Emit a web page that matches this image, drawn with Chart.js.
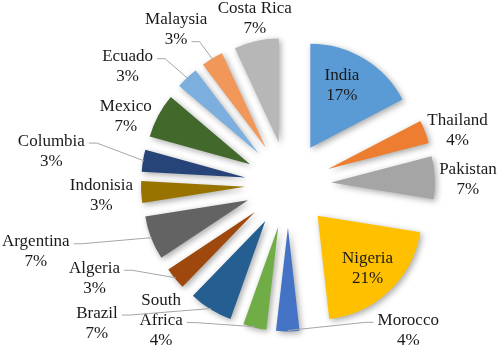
<!DOCTYPE html>
<html>
<head>
<meta charset="utf-8">
<script src="https://cdn.jsdelivr.net/npm/chart.js@4.4.1/dist/chart.umd.min.js"></script>
<style>
  body { margin: 0; background: #fff; }
  #wrap { width: 498px; height: 348px; }
</style>
</head>
<body>
<div id="wrap"><canvas id="chart"></canvas></div>
<script>
// slices, clockwise from 12 o'clock
const countries = ['India', 'Thailand', 'Pakistan', 'Nigeria', 'Morocco', ['South', 'Africa'], 'Brazil',
  'Algeria', 'Argentina', 'Indonisia', 'Columbia', 'Mexico', 'Ecuado', 'Malaysia', 'Costa Rica'];
// shares (labels show them rounded)
const shares = [17.3, 3.6, 6.6, 20.6, 3.6, 3.6, 6.8, 3.4, 6.8, 3.4, 3.4, 6.9, 3.45, 3.4, 6.9];
const colors = ['#5b9bd5', '#ed7d31', '#a5a5a5', '#ffc000', '#4472c4', '#70ad47', '#255e91',
  '#9e480e', '#636363', '#997300', '#264478', '#43682b', '#7cafdd', '#f1975a', '#b7b7b7'];

// label layout: distance from pie centre, turn (deg) off the slice middle,
// and which text row the leader line leaves from (-1 = no leader)
const labelDist = [113, 178, 180, 116, 189, 186, 236, 215, 261, 187, 239, 176, 199, 191, 169];
const labelTurn = [-2.7, 3.3, 1.2, 0.3, -39.6, 29.9, 22.2, 13.9, 6.4, -0.6, -1.3, -5.1, -10.3, -4.8, 1.1];
const leaderRow = [-1, -1, -1, -1, 0, 1, 0, 0, 0, -1, 0, -1, 0, 1, -1];

const EXPLODE = 43;
const LINE_H = 20;

// arc that is pushed out along its middle, without Chart.js growing small slices
class ExplodedArc extends Chart.ArcElement {
  draw(ctx) {
    const mid = (this.startAngle + this.endAngle) / 2;
    ctx.save();
    ctx.translate(Math.cos(mid) * EXPLODE, Math.sin(mid) * EXPLODE);
    ctx.shadowColor = 'rgba(0,0,0,0.35)';
    ctx.shadowBlur = 6;
    ctx.shadowOffsetX = 2;
    ctx.shadowOffsetY = 2;
    super.draw(ctx);
    ctx.restore();
  }
}
ExplodedArc.id = 'explodedArc';
Chart.register(ExplodedArc);
Chart.defaults.datasets.pie.dataElementType = 'explodedArc';

const sliceLabels = {
  id: 'sliceLabels',
  afterDatasetsDraw(chart) {
    const ctx = chart.ctx;
    const arcs = chart.getDatasetMeta(0).data;
    const total = shares.reduce((a, b) => a + b, 0);
    ctx.save();
    ctx.font = '17px "Liberation Serif"';
    ctx.fillStyle = '#1a1a1a';
    ctx.strokeStyle = '#a6a6a6';
    ctx.lineWidth = 1;
    ctx.textAlign = 'center';
    ctx.textBaseline = 'middle';
    arcs.forEach((arc, i) => {
      const {x, y, startAngle, endAngle, outerRadius} =
        arc.getProps(['x', 'y', 'startAngle', 'endAngle', 'outerRadius'], true);
      const mid = (startAngle + endAngle) / 2;
      const a = mid + labelTurn[i] * Math.PI / 180;
      const lx = x + Math.cos(a) * labelDist[i];
      const ly = y + Math.sin(a) * labelDist[i];
      const lines = [].concat(countries[i], Math.round(shares[i] / total * 100) + '%');
      const top = ly - (lines.length - 1) * LINE_H / 2;
      lines.forEach((t, k) => ctx.fillText(t, lx, top + k * LINE_H));

      const row = leaderRow[i];
      if (row < 0) return;
      const rowY = top + row * LINE_H + 2;
      const w = ctx.measureText(lines[row]).width;
      const tx = x + Math.cos(mid) * (EXPLODE + outerRadius - 1);
      const ty = y + Math.sin(mid) * (EXPLODE + outerRadius - 1);
      const dir = tx > lx ? 1 : -1;
      const sx = lx + dir * (w / 2 + 4);
      ctx.beginPath();
      ctx.moveTo(sx, rowY);
      ctx.lineTo(sx + dir * 8, rowY);
      ctx.lineTo(tx, ty);
      ctx.stroke();
    });
    ctx.restore();
  }
};

new Chart(document.getElementById('chart'), {
  type: 'pie',
  data: {
    labels: countries,
    datasets: [{
      data: shares,
      backgroundColor: colors,
      borderWidth: 0,
      clip: false
    }]
  },
  options: {
    responsive: true,
    maintainAspectRatio: false,
    animation: false,
    radius: 104,
    layout: { padding: { left: 78, top: 21, right: 0, bottom: 0 } },
    plugins: {
      legend: { display: false },
      tooltip: { enabled: false }
    }
  },
  plugins: [sliceLabels]
});
</script>
</body>
</html>
